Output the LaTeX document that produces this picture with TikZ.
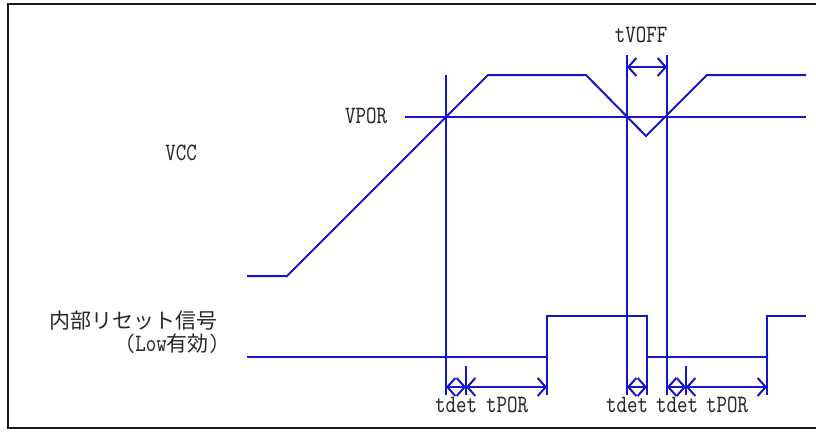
\documentclass[tikz,border=0pt]{standalone}
\usepackage{fontspec}
\newfontfamily\latinfont[FakeStretch=0.8]{lmmono10-regular.otf}
\newfontfamily\jpfont{Noto Sans CJK JP}
\usetikzlibrary{arrows.meta}
\definecolor{sig}{RGB}{20,20,205}
\begin{document}
\begin{tikzpicture}[x=1pt,y=-1pt,
  sigline/.style={draw=sig,line width=2pt,line join=miter},
  dim/.style={draw=sig,line width=2pt,{Straight Barb[length=8pt,width=18pt]}-{Straight Barb[length=8pt,width=18pt]}},
  lbl/.style={font=\latinfont\fontsize{25}{25}\selectfont,inner sep=0pt,text=black!85},
  jlbl/.style={font=\jpfont\fontsize{21}{21}\selectfont,inner sep=0pt,text=black!85}]
\useasboundingbox (0,0) rectangle (816,431);
% frame (open on the right)
\draw[line width=2pt,black!90] (822,4) -- (8,4) -- (8,428) -- (822,428);

% VCC waveform
\draw[sigline] (247,276) -- (287,276) -- (488,75) -- (586,75) -- (646,136) -- (707,75) -- (806,75);
% VPOR level
\draw[sigline] (405,117) -- (806,117);
% internal reset signal
\draw[sigline] (247,357) -- (547,357) -- (547,316) -- (647,316) -- (647,357) -- (767,357) -- (767,316) -- (806,316);

% vertical marker lines
\draw[sigline] (446,75) -- (446,395);
\draw[sigline] (547,316) -- (547,395);
\draw[sigline] (627,55) -- (627,395);
\draw[sigline] (647,316) -- (647,395);
\draw[sigline] (667,55) -- (667,395);
\draw[sigline] (767,316) -- (767,395);
\draw[sigline] (466,366) -- (466,395);
\draw[sigline] (686,366) -- (686,395);

% named coordinates for dimension arrows
\coordinate (a1) at (446,387);
\coordinate (a2) at (466,387);
\coordinate (a3) at (547,387);
\coordinate (b1) at (627,387);
\coordinate (b2) at (647,387);
\coordinate (c1) at (667,387);
\coordinate (c2) at (686,387);
\coordinate (c3) at (767,387);
\coordinate (v1) at (627,67);
\coordinate (v2) at (667,67);
\draw[dim] (a1) -- (a2);
\draw[dim] (a2) -- (a3);
\draw[dim] (b1) -- (b2);
\draw[dim] (c1) -- (c2);
\draw[dim] (c2) -- (c3);
\draw[dim] (v1) -- (v2);

% labels
\node[lbl] (tvoff) at (641,35) {tVOFF};
\node[lbl] (vpor) at (366,116) {VPOR};
\node[lbl] (vcc) at (181,153) {VCC};
\node[jlbl] (rst) at (133,321) {内部リセット信号};
\node[inner sep=0pt,text=black!85] (low) at (172,344) {{\latinfont\fontsize{25}{25}\selectfont(Low}{\jpfont\fontsize{21}{21}\selectfont 有効}{\latinfont\fontsize{25}{25}\selectfont)}};
\node[lbl] (td1) at (456,405) {tdet};
\node[lbl] (tp1) at (507,405) {tPOR};
\node[lbl] (td2) at (627,405) {tdet};
\node[lbl] (td3) at (677,405) {tdet};
\node[lbl] (tp2) at (727,405) {tPOR};
\end{tikzpicture}
\end{document}
